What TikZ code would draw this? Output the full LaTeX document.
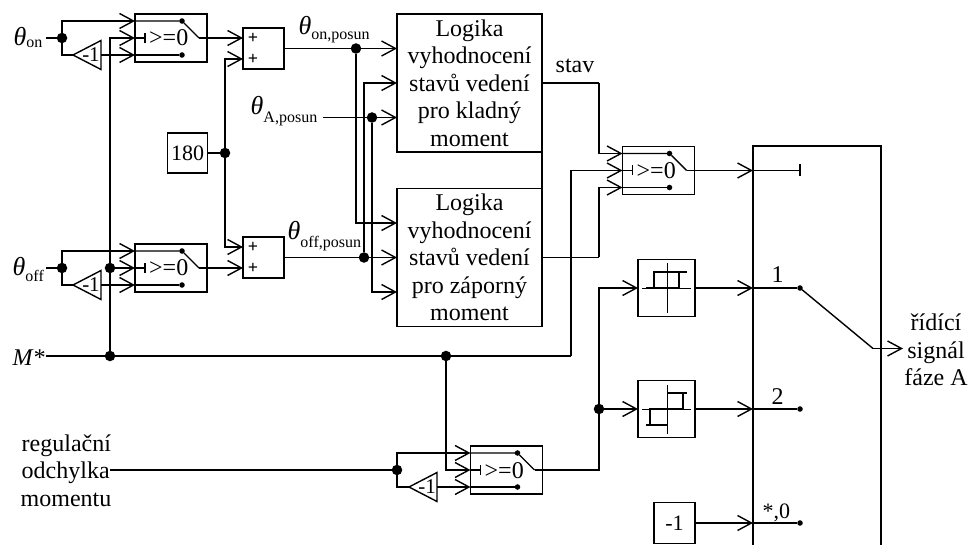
\documentclass[tikz,border=0pt]{standalone}
\usepackage{fontspec}
\setmainfont{Liberation Serif}
\usetikzlibrary{shapes,shapes.geometric,arrows.meta}
\usetikzlibrary{calc}
\usetikzlibrary{positioning}
\tikzstyle{block} = [draw, rectangle, inner sep=0pt, outer sep=0pt,
    font=\fontsize{22}{22}\selectfont]
\tikzstyle{swblock} = [block, minimum height=48pt, minimum width=72pt]
\tikzstyle{sum} = [block, minimum height=41pt, minimum width=41pt]
\tikzstyle{hyst} = [block, minimum height=57pt, minimum width=57pt]
\tikzstyle{logic} = [block, minimum height=138pt, minimum width=145pt,
    align=center, font=\fontsize{24}{27.6}\selectfont]
\tikzstyle{gain} = [draw, isosceles triangle, isosceles triangle stretches,
    shape border rotate=180, minimum width=29pt, minimum height=28pt,
    inner sep=0pt, outer sep=0pt, anchor=apex]
\tikzstyle{gaintxt} = [inner sep=0pt, font=\fontsize{21}{21}\selectfont]
\tikzstyle{dot} = [draw, fill=black, circle, inner sep=0pt, minimum size=9pt]
\tikzstyle{contact} = [draw, fill=black, circle, inner sep=0pt, minimum size=4pt]
\tikzstyle{lab} = [inner sep=0pt, anchor=base west, font=\fontsize{24}{27.6}\selectfont]
\tikzstyle{plus} = [inner sep=0pt, font=\fontsize{18}{18}\selectfont\bfseries]
\tikzstyle{input} = [coordinate]
\newcommand{\thetalab}[2]{{\fontsize{26}{26}\selectfont\textit{θ}}\raisebox{#2pt}{\fontsize{16}{16}\selectfont #1}}
% switch block: name, centre x, centre y
\newcommand{\switchblock}[3]{
    \node[swblock] at (#2,#3) (#1) {};
    \coordinate (#1in1) at ($(#1.west)+(0,-17)$);
    \coordinate (#1in2) at (#1.west);
    \coordinate (#1in3) at ($(#1.west)+(0,17)$);
    \node[contact] at ($(#1.east)+(-25,-17)$) (#1top) {};
    \node[contact] at ($(#1.east)+(-25,17)$) (#1low) {};
    \coordinate (#1hinge) at ($(#1.east)+(-8,0)$);
    \coordinate (#1gate) at ($(#1.west)+(10,0)$);
    \node[lab] at ($(#1.west)+(13.5,8)$) (#1txt) {>=0};
    \draw (#1in1) -- (#1top) -- (#1hinge);
    \draw (#1in3) -- (#1low);
    \draw (#1in2) -- (#1gate);
    \draw ($(#1gate)+(0,-5)$) -- ($(#1gate)+(0,5)$);
}

\begin{document}
\begin{tikzpicture}[x=1pt,y=-1pt,>={Straight Barb[length=14pt,width=15pt]},line width=1.4pt]
    \useasboundingbox (0,0) rectangle (969,545);

    % switches and sums
    \switchblock{sw1}{171}{38}
    \switchblock{sw2}{171}{268}
    \switchblock{sw3}{658.5}{170.5}
    \switchblock{sw4}{506.5}{470}

    \node[sum] at (263.5,48.5) (sum1) {};
    \node[plus] at (253,38) (sum1a) {+};
    \node[plus] at (253,59) (sum1b) {+};
    \coordinate (sum1in1) at (sum1.west |- sum1a);
    \coordinate (sum1in2) at (sum1.west |- sum1b);
    \node[sum] at (263.5,257.5) (sum2) {};
    \node[plus] at (253,247) (sum2a) {+};
    \node[plus] at (253,268) (sum2b) {+};
    \coordinate (sum2in1) at (sum2.west |- sum2a);
    \coordinate (sum2in2) at (sum2.west |- sum2b);

    \node[block, minimum height=40pt, minimum width=40.5pt] at (187.5,153) (const180) {180};
    \node[block, minimum height=41pt, minimum width=41pt] at (674.5,523) (constm1) {-1};

    % logic blocks
    \node[logic] at (469.5,83) (logic1) {Logika\\vyhodnocení\\stavů vedení\\pro kladný\\moment};
    \node[logic] at (469.5,257.5) (logic2) {Logika\\vyhodnocení\\stavů vedení\\pro záporný\\moment};
    \coordinate (l1in1) at ($(logic1.west)+(0,-34.5)$);
    \coordinate (l1in2) at (logic1.west);
    \coordinate (l1in3) at ($(logic1.west)+(0,34.5)$);
    \coordinate (l2in1) at ($(logic2.west)+(0,-34.5)$);
    \coordinate (l2in2) at (logic2.west);
    \coordinate (l2in3) at ($(logic2.west)+(0,34.5)$);
    \draw (logic1.south east) -- (logic2.north east);

    % first row inputs
    \node[input] at (46,38) (ton) {};
    \node[lab] at (13,45.5) (tonlab) {\thetalab{on}{-2}};
    \node[dot] at (62,38) (jon) {};
    \node[gain] at (73,55) (g1) {};
    \node[gaintxt] at (91,55) (g1txt) {-1};
    \draw (ton) -- (jon);
    \draw[->] (jon) |- (sw1in1);
    \draw (jon) |- (g1.apex);
    \draw[->] (g1.lower side) -- (sw1in3);

    \node[input] at (46,268) (toff) {};
    \node[lab] at (12,276) (tofflab) {\thetalab{off}{-6}};
    \node[dot] at (62,268) (joff) {};
    \node[gain] at (73,285) (g2) {};
    \node[gaintxt] at (91,285) (g2txt) {-1};
    \draw (toff) -- (joff);
    \draw[->] (joff) |- (sw2in1);
    \draw (joff) |- (g2.apex);
    \draw[->] (g2.lower side) -- (sw2in3);

    % moment reference
    \node[input] at (46,356) (mref) {};
    \node[lab] at (12,365) (mlab) {\textit{M*}};
    \node[dot] at (110,356) (jm) {};
    \node[dot] at (110,268) (jctl) {};
    \node[dot] at (446,356) (jm2) {};
    \coordinate (mcorner) at (571,356);
    \draw (mref) -- (jm) -- (jm2) -- (mcorner);
    \draw[->] (mcorner) |- (sw3in2);
    \draw (jm) -- (jctl);
    \draw[->] (jctl) -- (sw2in2);
    \draw[->] (jctl) |- (sw1in2);
    \draw[->] (jm2) |- (sw4in2);

    % constant 180
    \node[dot] at (225,153) (j180) {};
    \draw (const180) -- (j180);
    \draw[->] (j180) |- (sum1in2);
    \draw[->] (j180) |- (sum2in1);
    \draw[->] (sw1hinge) -- (sum1in1);
    \draw[->] (sw2hinge) -- (sum2in2);

    % shifted angles
    \node[lab] at (298,35) (tonp) {\thetalab{on,posun}{-5}};
    \node[lab] at (250,115) (tap) {\thetalab{A,posun}{-8}};
    \node[lab] at (287,240) (toffp) {\thetalab{off,posun}{-8}};
    \node[input] at (323,117.5) (apin) {};
    \node[dot] at (356,48.5) (jonp) {};
    \node[dot] at (364,257.5) (joffp) {};
    \node[dot] at (372,117.5) (jap) {};
    \draw (sum1.east) -- (jonp);
    \draw[->] (jonp) -- (l1in1);
    \draw[->] (jonp) |- (l2in1);
    \draw (sum2.east) -- (joffp);
    \draw[->] (joffp) -- (l2in2);
    \draw[->] (joffp) |- (l1in2);
    \draw (apin) -- (jap);
    \draw[->] (jap) -- (l1in3);
    \draw[->] (jap) |- (l2in3);

    % logic outputs
    \node[lab] at (555,73) (stav) {stav};
    \coordinate (c1) at (599,83);
    \coordinate (c2) at (599,257.5);
    \draw (logic1.east) -- (c1);
    \draw[->] (c1) |- (sw3in1);
    \draw (logic2.east) -- (c2);
    \draw[->] (c2) |- (sw3in3);

    % hysteresis blocks
    \node[hyst] at (666.5,288) (hyst1) {};
    \draw[line width=0.9pt] (667,263) -- (667,313);
    \draw[line width=0.9pt] (642,288) -- (691,288);
    \draw (646,288) -- (679,288) -- (679,272);
    \draw (654,288) -- (654,272) -- (687,272);
    \node[hyst] at (666.5,409) (hyst2) {};
    \draw[line width=0.9pt] (667,385) -- (667,434);
    \draw[line width=0.9pt] (642,409) -- (691,409);
    \draw (667,393) -- (687,393);
    \draw (683,393) -- (683,409) -- (650,409) -- (650,425);
    \draw (646,425) -- (667,425);

    % error input
    \node[lab] at (21,451) (reg1) {regulační};
    \node[lab] at (21,478) (reg2) {odchylka};
    \node[lab] at (20,506) (reg3) {momentu};
    \node[input] at (110,470) (errin) {};
    \node[dot] at (397,470) (jerr) {};
    \node[gain] at (409,487) (g3) {};
    \node[gaintxt] at (427,487) (g3txt) {-1};
    \draw (errin) -- (jerr);
    \draw[->] (jerr) |- (sw4in1);
    \draw (jerr) |- (g3.apex);
    \draw[->] (g3.lower side) -- (sw4in3);

    \node[dot] at (599,409) (jhyst) {};
    \coordinate (c3) at (599,470);
    \draw (sw4hinge) -- (c3) -- (jhyst);
    \draw[->] (jhyst) -- (hyst2);
    \draw[->] (jhyst) |- (hyst1);

    % output selector, open at the bottom
    \coordinate (bigbl) at (753,545);
    \coordinate (bigtl) at (753,146);
    \coordinate (bigtr) at (881,146);
    \coordinate (bigbr) at (881,545);
    \draw (bigbl) -- (bigtl) -- (bigtr) -- (bigbr);

    \coordinate (in0) at (bigtl |- sw3.east);
    \coordinate (stop) at (800,170.5);
    \draw[->] (sw3hinge) -- (in0);
    \draw (in0) -- (stop);
    \draw ($(stop)+(0,-6)$) -- ($(stop)+(0,6)$);

    \coordinate (in1) at (bigtl |- hyst1.east);
    \coordinate (in2) at (bigtl |- hyst2.east);
    \coordinate (in3) at (bigtl |- constm1.east);
    \node[contact] at (800,288) (k1) {};
    \node[contact] at (800,409) (k2) {};
    \node[contact] at (800,523) (k3) {};
    \draw[->] (hyst1) -- (in1);
    \draw (in1) -- (k1);
    \draw[->] (hyst2) -- (in2);
    \draw (in2) -- (k2);
    \draw[->] (constm1) -- (in3);
    \draw (in3) -- (k3);
    \node[lab] at (771,283) (lab1) {1};
    \node[lab] at (771,404) (lab2) {2};
    \node[lab, font=\fontsize{22}{22}\selectfont] at (762,518) (lab3) {*,0};

    \coordinate (arm) at (873,348.5);
    \coordinate (armout) at (903,348.5);
    \draw (k1) -- (arm);
    \draw[->] (arm) -- (armout);
    \node[inner sep=0pt, align=center, font=\fontsize{24}{27.6}\selectfont] at (936,350) (outlab) {řídící\\signál\\fáze A};
\end{tikzpicture}
\end{document}
